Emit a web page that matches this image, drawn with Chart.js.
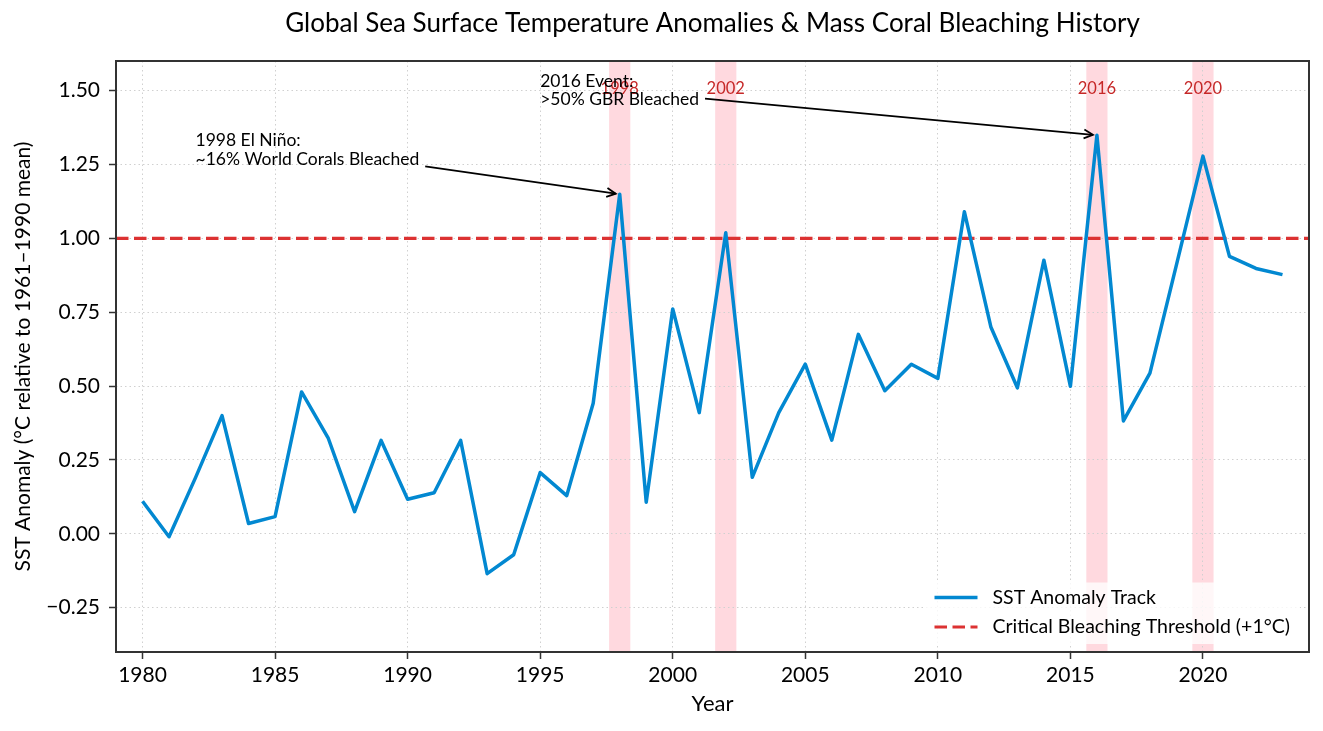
<!DOCTYPE html>
<html>
<head>
<meta charset="utf-8">
<title>SST anomalies and coral bleaching</title>
<script src="https://cdn.jsdelivr.net/npm/chart.js@4.4.1/dist/chart.umd.min.js"></script>
<style>
  html, body { margin: 0; padding: 0; background: #fff; }
  #wrap { width: 1323px; height: 731px; }
</style>
</head>
<body>
<div id="wrap"><canvas id="sstChart" width="1323" height="731"></canvas></div>
<script>
// valores
const years = [1980, 1981, 1982, 1983, 1984, 1985, 1986, 1987, 1988, 1989,
               1990, 1991, 1992, 1993, 1994, 1995, 1996, 1997, 1998, 1999,
               2000, 2001, 2002, 2003, 2004, 2005, 2006, 2007, 2008, 2009,
               2010, 2011, 2012, 2013, 2014, 2015, 2016, 2017, 2018, 2019,
               2020, 2021, 2022, 2023];
const sstAnomaly = [0.11, -0.01, 0.19, 0.40, 0.035, 0.058, 0.48, 0.325, 0.075, 0.316,
                    0.117, 0.139, 0.316, -0.135, -0.071, 0.207, 0.129, 0.442, 1.149, 0.107,
                    0.761, 0.41, 1.019, 0.191, 0.41, 0.574, 0.317, 0.675, 0.484, 0.574,
                    0.526, 1.09, 0.70, 0.494, 0.926, 0.499, 1.349, 0.382, 0.544, 0.91,
                    1.278, 0.939, 0.898, 0.877];
const thresholdValue = 1.0;
const bleachingYears = [1998, 2002, 2016, 2020];
const noteYears = [1998, 2016];
const noteTexts = [
  ['1998 El Niño:', '~16% World Corals Bleached'],
  ['2016 Event:', '>50% GBR Bleached']
];
const xTicks = [1980, 1985, 1990, 1995, 2000, 2005, 2010, 2015, 2020];
const yTicks = [-0.25, 0, 0.25, 0.5, 0.75, 1.0, 1.25, 1.5];
const xLimits = [1979, 2024];
const yLimits = [-0.4, 1.6];

const FONT = 'Lato, "Open Sans", sans-serif';

// franjas rosadas de los eventos de blanqueamiento
const bandsPlugin = {
  id: 'bleachingBands',
  beforeDraw(chart) {
    const {ctx, chartArea, scales: {x}} = chart;
    ctx.save();
    ctx.fillStyle = 'rgba(255, 170, 185, 0.45)';
    bleachingYears.forEach(yr => {
      const x0 = x.getPixelForValue(yr - 0.4);
      const x1 = x.getPixelForValue(yr + 0.4);
      ctx.fillRect(x0, chartArea.top, x1 - x0, chartArea.bottom - chartArea.top);
    });
    ctx.restore();
  },
  afterDatasetsDraw(chart) {
    const {ctx, scales: {x, y}} = chart;
    ctx.save();
    ctx.font = '16.5px ' + FONT;
    ctx.fillStyle = '#c62828';
    ctx.textAlign = 'center';
    ctx.textBaseline = 'middle';
    bleachingYears.forEach(yr => {
      ctx.fillText(String(yr), x.getPixelForValue(yr), y.getPixelForValue(1.505));
    });
    ctx.restore();
  }
};

// notas con flecha hacia los picos
const notesPlugin = {
  id: 'notes',
  afterDatasetsDraw(chart) {
    const {ctx, scales: {x, y}} = chart;
    const anchors = [[1982, 1.3], [1995, 1.5]];
    const lineH = 18.5;
    ctx.save();
    ctx.font = '17.5px ' + FONT;
    ctx.fillStyle = '#000';
    ctx.strokeStyle = '#000';
    ctx.lineWidth = 1.8;
    ctx.textAlign = 'left';
    ctx.textBaseline = 'middle';
    noteTexts.forEach((lines, i) => {
      const tx = x.getPixelForValue(anchors[i][0]);
      const ty = y.getPixelForValue(anchors[i][1]);
      const w = Math.max(...lines.map(l => ctx.measureText(l).width));
      const h = lines.length * lineH;
      const top = ty - h / 2;
      lines.forEach((l, k) => ctx.fillText(l, tx, top + lineH * (k + 0.5)));

      // punto destino = valor de la serie en ese año
      const yr = noteYears[i];
      const px = x.getPixelForValue(yr);
      const py = y.getPixelForValue(sstAnomaly[years.indexOf(yr)]);
      const cx = tx + w / 2, cy = ty;
      const dx = px - cx, dy = py - cy;
      const len = Math.hypot(dx, dy);
      const ux = dx / len, uy = dy / len;
      // salida por el borde de la caja del texto
      const pad = 2;
      const tEdge = Math.min((w / 2 + pad) / Math.abs(ux), (h / 2 + pad) / Math.abs(uy));
      const sx = cx + ux * (tEdge + 4), sy = cy + uy * (tEdge + 4);
      const ex = px - ux * 4, ey = py - uy * 4;
      ctx.beginPath();
      ctx.moveTo(sx, sy);
      ctx.lineTo(ex, ey);
      ctx.stroke();
      const hl = 9, hw = 4.5;
      ctx.beginPath();
      ctx.moveTo(ex - ux * hl - uy * hw, ey - uy * hl + ux * hw);
      ctx.lineTo(ex, ey);
      ctx.lineTo(ex - ux * hl + uy * hw, ey - uy * hl - ux * hw);
      ctx.stroke();
    });
    ctx.restore();
  }
};

// leyenda dentro del area, abajo a la derecha
const legendBoxPlugin = {
  id: 'legendBox',
  afterDatasetsDraw(chart) {
    const {ctx, chartArea} = chart;
    const sets = chart.data.datasets;
    ctx.save();
    ctx.font = '19.5px ' + FONT;
    const textW = Math.max(...sets.map(d => ctx.measureText(d.label).width));
    const handle = 43, gap = 15, padL = 11, padR = 10, padT = 15, padB = 17, rowH = 29.5;
    const boxW = padL + handle + gap + textW + padR;
    const boxH = padT + padB + rowH * (sets.length - 1);
    const right = chartArea.right - 9, bottom = chartArea.bottom - 8;
    const left = right - boxW, top = bottom - boxH;
    ctx.fillStyle = 'rgba(255, 255, 255, 0.8)';
    ctx.beginPath();
    ctx.roundRect(left, top, boxW, boxH, 4);
    ctx.fill();
    sets.forEach((d, i) => {
      const yy = top + padT + rowH * i;
      ctx.strokeStyle = d.borderColor;
      ctx.lineWidth = d.borderWidth;
      ctx.setLineDash(d.borderDash || []);
      ctx.beginPath();
      ctx.moveTo(left + padL, yy);
      ctx.lineTo(left + padL + handle, yy);
      ctx.stroke();
      ctx.setLineDash([]);
      ctx.fillStyle = '#000';
      ctx.textAlign = 'left';
      ctx.textBaseline = 'middle';
      ctx.fillText(d.label, left + padL + handle + gap, yy);
    });
    ctx.restore();
  }
};

// marco completo del area de trazado
const framePlugin = {
  id: 'frame',
  afterDraw(chart) {
    const {ctx, chartArea: a} = chart;
    ctx.save();
    ctx.strokeStyle = '#333';
    ctx.lineWidth = 2;
    ctx.strokeRect(a.left, a.top, a.right - a.left, a.bottom - a.top);
    ctx.restore();
  }
};

const ctx = document.getElementById('sstChart').getContext('2d');
const sstChart = new Chart(ctx, {
  type: 'line',
  data: {
    datasets: [{
      label: 'SST Anomaly Track',
      data: years.map((yr, i) => ({x: yr, y: sstAnomaly[i]})),
      borderColor: '#0288d1',
      borderWidth: 3.5,
      borderJoinStyle: 'round',
      pointRadius: 0,
      tension: 0,
      fill: false
    }, {
      label: 'Critical Bleaching Threshold (+1°C)',
      data: xLimits.map(v => ({x: v, y: thresholdValue})),
      borderColor: '#dc3232',
      borderWidth: 3.2,
      borderDash: [12.5, 5.5],
      pointRadius: 0,
      fill: false
    }]
  },
  options: {
    responsive: false,
    devicePixelRatio: 1,
    animation: false,
    layout: { padding: {left: 0, right: 14, top: 0, bottom: 0} },
    plugins: {
      legend: { display: false },
      tooltip: { enabled: false },
      title: {
        display: true,
        fullSize: false,
        text: 'Global Sea Surface Temperature Anomalies & Mass Coral Bleaching History',
        color: '#000',
        font: { family: FONT, size: 26, weight: 'normal' },
        padding: { top: 8.5, bottom: 21.3 }
      }
    },
    scales: {
      x: {
        type: 'linear',
        min: xLimits[0],
        max: xLimits[1],
        afterBuildTicks: s => { s.ticks = xTicks.map(v => ({value: v})); },
        afterFit: s => { s.height = 79; },
        ticks: {
          color: '#000',
          font: { family: FONT, size: 21 },
          padding: 4,
          maxRotation: 0,
          autoSkip: false,
          callback: v => String(v)
        },
        grid: { color: '#d0d0d0', lineWidth: 1, tickLength: 7, tickColor: '#333', tickWidth: 1.5 },
        border: { display: false, dash: [1.5, 3] },
        title: {
          display: true,
          text: 'Year',
          color: '#000',
          font: { family: FONT, size: 22 },
          padding: { top: 0, bottom: 13.5 }
        }
      },
      y: {
        min: yLimits[0],
        max: yLimits[1],
        afterBuildTicks: s => { s.ticks = yTicks.map(v => ({value: v})); },
        afterFit: s => { s.width = 116; },
        ticks: {
          color: '#000',
          font: { family: FONT, size: 21 },
          padding: 9,
          callback: v => (v < 0 ? '\u2212' : '') + Math.abs(v).toFixed(2)
        },
        grid: { color: '#d0d0d0', lineWidth: 1, tickLength: 7, tickColor: '#333', tickWidth: 1.5 },
        border: { display: false, dash: [1.5, 3] },
        title: {
          display: true,
          text: 'SST Anomaly (°C relative to 1961–1990 mean)',
          color: '#000',
          font: { family: FONT, size: 21 },
          padding: { top: 11, bottom: 0 }
        }
      }
    }
  },
  plugins: [bandsPlugin, notesPlugin, legendBoxPlugin, framePlugin]
});
</script>
</body>
</html>
